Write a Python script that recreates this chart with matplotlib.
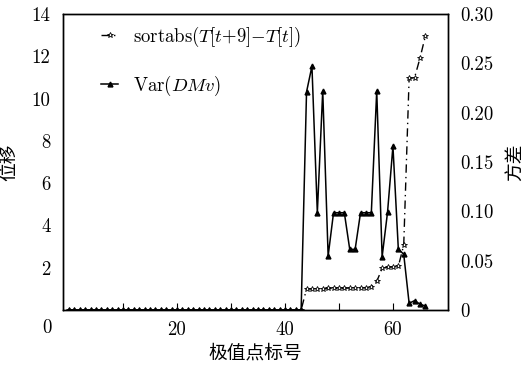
import matplotlib
matplotlib.use("Agg")
import matplotlib.pyplot as plt

# ---- data ----
point_index = list(range(67))

sortabs_disp = [
    0, 0, 0, 0, 0, 0, 0, 0, 0, 0, 0,
    0, 0, 0, 0, 0, 0, 0, 0, 0, 0, 0,
    0, 0, 0, 0, 0, 0, 0, 0, 0, 0, 0,
    0, 0, 0, 0, 0, 0, 0, 0, 0, 0, 0,
    1.00, 1.00, 1.01, 1.01, 1.02, 1.02, 1.03, 1.03, 1.04, 1.04,
    1.05, 1.06, 1.10, 1.35, 1.97, 2.02, 2.04, 2.06, 3.07,
    10.96, 10.98, 11.90, 12.95,
]

var_dmv = [
    0, 0, 0, 0, 0, 0, 0, 0, 0, 0, 0,
    0, 0, 0, 0, 0, 0, 0, 0, 0, 0, 0,
    0, 0, 0, 0, 0, 0, 0, 0, 0, 0, 0,
    0, 0, 0, 0, 0, 0, 0, 0, 0, 0, 0,
    0.221, 0.247, 0.0986, 0.222, 0.0547, 0.0986, 0.0986, 0.0986,
    0.0615, 0.0615, 0.0986, 0.0986, 0.0986, 0.222, 0.054, 0.099,
    0.166, 0.0618, 0.0565, 0.0068, 0.0095, 0.006, 0.004,
]

x_ticks = [10, 20, 30, 40, 50, 60]
x_tick_labels = ["", "20", "", "40", "", "60"]
left_ticks = [2, 4, 6, 8, 10, 12, 14]
right_ticks = [0, 0.05, 0.10, 0.15, 0.20, 0.25, 0.30]
right_tick_labels = ["0", "0.05", "0.10", "0.15", "0.20", "0.25", "0.30"]

# ---- style ----
plt.rcParams["font.family"] = ["cmr10", "Noto Sans CJK SC"]
plt.rcParams["mathtext.fontset"] = "cm"
plt.rcParams["axes.formatter.use_mathtext"] = True
FS = 13.5

fig = plt.figure(figsize=(5.23, 3.67), dpi=100)
ax = fig.add_axes([0.1205, 0.1553, 0.7361, 0.8066])
ax2 = ax.twinx()

l1, = ax.plot(point_index, sortabs_disp, color="black", lw=1.0,
              linestyle=(0, (6, 3, 1, 3)), marker="*", ms=4,
              mfc="white", mec="black", mew=0.6, zorder=3)
l2, = ax2.plot(point_index, var_dmv, color="black", lw=1.1,
               marker="^", ms=3.5, mfc="black", mec="black", zorder=4)

ax.set_xlim(-1.1, 70.2)
ax.set_ylim(0, 14)
ax2.set_ylim(0, 0.30)

ax.set_xticks(x_ticks)
ax.set_xticklabels(x_tick_labels, fontsize=FS)
ax.tick_params(axis="x", direction="in", length=5, width=0.8, pad=8)
ax.set_yticks(left_ticks)
ax.set_yticklabels([str(t) for t in left_ticks], fontsize=FS)
ax.tick_params(axis="y", length=0, pad=9)
ax2.set_yticks(right_ticks)
ax2.set_yticklabels(right_tick_labels, fontsize=FS)
ax2.tick_params(axis="y", length=0, pad=9)

# shared corner "0"
ax.text(-0.042, -0.061, "0", transform=ax.transAxes, fontsize=FS,
        ha="center", va="center")

for a in (ax, ax2):
    for s in a.spines.values():
        s.set_linewidth(1.0)

ax.set_xlabel("极值点标号", fontsize=FS, labelpad=4)
ax.set_ylabel("位移", fontsize=FS, labelpad=10)
ax2.set_ylabel("方差", fontsize=FS, labelpad=9)

ax2.legend([l1, l2],
           [r"sortabs($T[t{+}9]{-}T[t]$)", r"Var($DMv$)"],
           loc="upper left", bbox_to_anchor=(0.08, 0.99), frameon=False,
           fontsize=FS, handlelength=0.9, handletextpad=0.8,
           labelspacing=1.35, borderaxespad=0)

fig.savefig("out.png", dpi=100)
